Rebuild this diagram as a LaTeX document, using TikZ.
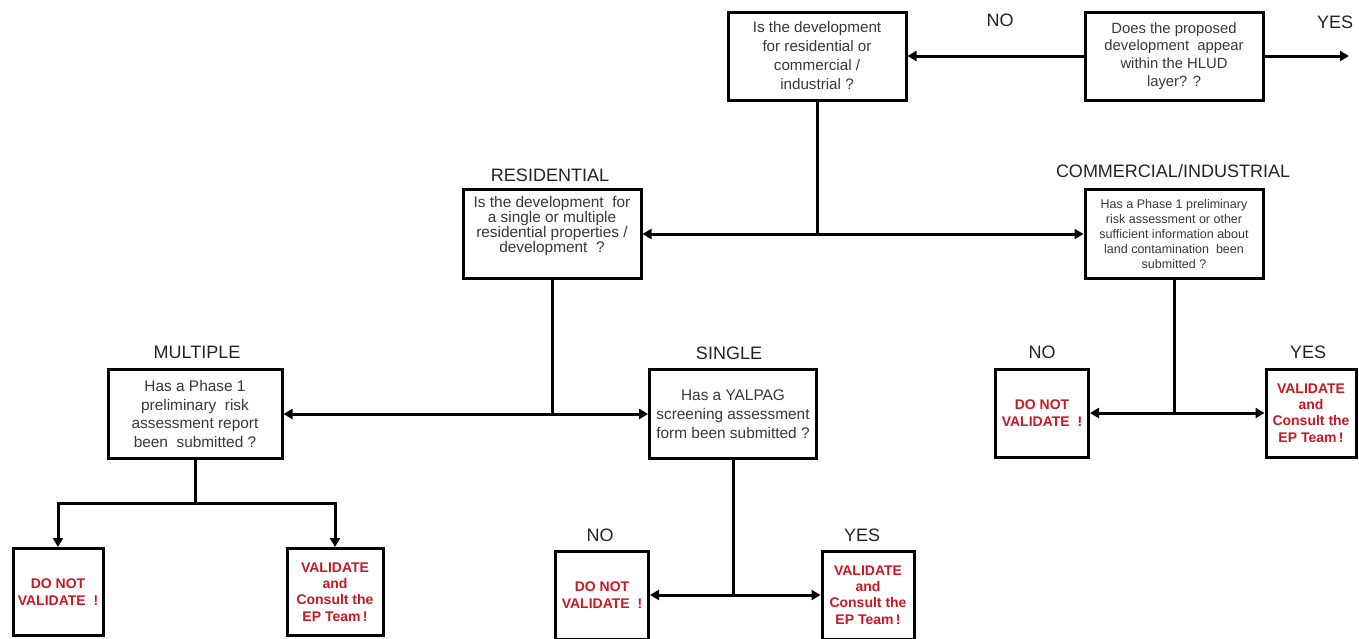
\documentclass[tikz,border=0pt]{standalone}
\usepackage{fontspec}
\setmainfont{Liberation Sans}
\usetikzlibrary{arrows.meta}
\definecolor{txtgray}{RGB}{55,55,55}
\definecolor{labgray}{RGB}{35,35,35}
\definecolor{redtxt}{RGB}{200,25,35}
\begin{document}
\begin{tikzpicture}[x=1pt,y=-1pt,
  box/.style={draw, line width=3pt, rectangle, inner sep=0pt, align=center, text=txtgray},
  qtext/.style={font=\fontsize{15.4}{18.7}\selectfont},
  intext/.style={align=center, text=txtgray, inner sep=0pt},
  verdict/.style={box, text=redtxt, font=\fontsize{14}{16.4}\selectfont\bfseries},
  conn/.style={line width=3pt},
  arr/.style={line width=3pt, -{Triangle[length=9pt,width=10pt]}},
  lab/.style={font=\fontsize{18}{18}\selectfont, text=labgray, inner sep=0pt}
]
\useasboundingbox (0,0) rectangle (1359,638);

% top row
\node[box, font=\fontsize{15.2}{19}\selectfont, minimum width=178pt, minimum height=88pt] (q1) at (817,56)
  {Is the development\\for residential or\\commercial /\\industrial ?};
\node[box, font=\fontsize{14.8}{17.8}\selectfont, minimum width=178pt, minimum height=88pt] (hlud) at (1174,56)
  {Does the proposed\\development\ \ appear\\within the HLUD\\layer? ?};
\coordinate (yesend) at (1349,56);
\node[lab] (lno) at (1000,20) {NO};
\node[lab] (lyes) at (1335,22) {YES};

% second row
\node[box, minimum width=178pt, minimum height=89pt] (res) at (552,234) {};
\node[intext, font=\fontsize{15.4}{15.3}\selectfont] (restext) at (552,226)
  {Is the development\ \ for\\a single or multiple\\residential properties /\\development\ \ ?};
\node[box, font=\fontsize{12.5}{14.8}\selectfont, minimum width=178pt, minimum height=89pt] (com) at (1174,234)
  {Has a Phase 1 preliminary\\risk assessment or other\\sufficient information about\\land contamination\ \ been\\submitted ?};
\node[lab] (lres) at (550,175) {RESIDENTIAL};
\node[lab] (lcom) at (1173,171) {COMMERCIAL/INDUSTRIAL};
\coordinate (j1) at (817,234);

% third row
\node[box, qtext, minimum width=174pt, minimum height=89pt] (mult) at (195,414)
  {Has a Phase 1\\preliminary\ \ risk\\assessment report\\been\ \ submitted ?};
\node[box, qtext, minimum width=167pt, minimum height=89pt] (single) at (733,414)
  {Has a YALPAG\\screening assessment\\form been submitted ?};
\node[lab] (lmult) at (197,352) {MULTIPLE};
\node[lab] (lsingle) at (729,353) {SINGLE};
\coordinate (j2) at (552,414);

\node[verdict, minimum width=93pt, minimum height=88pt] (no3) at (1042,413) {DO NOT\\VALIDATE\ \ !};
\node[verdict, minimum width=90pt, minimum height=88pt] (yes3) at (1311,413) {VALIDATE\\and\\Consult the\\EP Team\,!};
\node[lab] (lno3) at (1042,352) {NO};
\node[lab] (lyes3) at (1308,352) {YES};
\coordinate (j5) at (1174,413);

% bottom row
\node[verdict, minimum width=90pt, minimum height=87pt] (no1) at (58,592) {DO NOT\\VALIDATE\ \ !};
\node[verdict, minimum width=96pt, minimum height=87pt] (yes1) at (335,592) {VALIDATE\\and\\Consult the\\EP Team\,!};
\coordinate (j3) at (195,503);

\node[verdict, minimum width=93pt, minimum height=88pt] (no2) at (602,595) {DO NOT\\VALIDATE\ \ !};
\node[verdict, minimum width=92pt, minimum height=88pt] (yes2) at (868,595) {VALIDATE\\and\\Consult the\\EP Team\,!};
\node[lab] (lno2) at (600,535) {NO};
\node[lab] (lyes2) at (862,535) {YES};
\coordinate (j4) at (733,595);

% connectors
\draw[arr] (hlud.west) -- (q1.east);
\draw[arr] (hlud.east) -- (yesend);
\draw[conn] (q1.south) -- (j1);
\draw[arr] (j1) -- (res.east);
\draw[arr] (j1) -- (com.west);

\draw[conn] (res.south) -- (j2);
\draw[arr] (j2) -- (mult.east);
\draw[arr] (j2) -- (single.west);

\draw[conn] (mult.south) -- (j3);
\draw[arr] (j3) -| (no1.north);
\draw[arr] (j3) -| (yes1.north);

\draw[conn] (single.south) -- (j4);
\draw[arr] (j4) -- (no2.east);
\draw[arr] (j4) -- (yes2.west);

\draw[conn] (com.south) -- (j5);
\draw[arr] (j5) -- (no3.east);
\draw[arr] (j5) -- (yes3.west);
\end{tikzpicture}
\end{document}
